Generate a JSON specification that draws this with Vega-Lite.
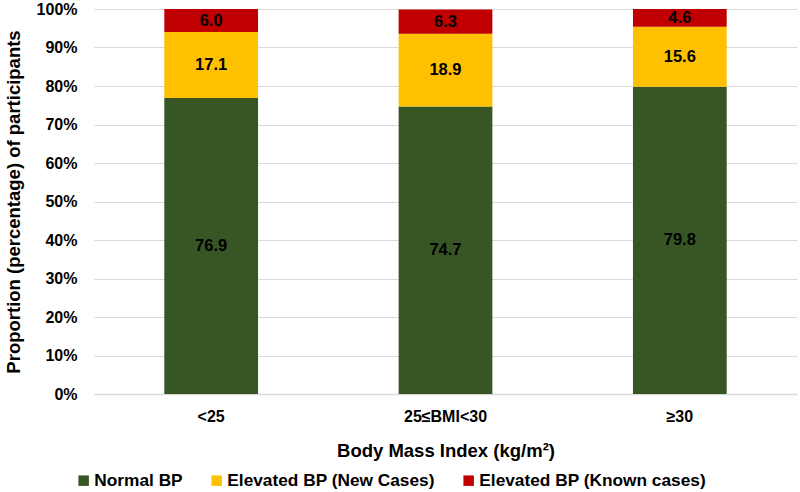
{
  "$schema": "https://vega.github.io/schema/vega-lite/v6.json",
  "width": 703,
  "height": 385,
  "autosize": {"type": "none"},
  "padding": {"left": 94, "top": 9, "right": 3, "bottom": 98},
  "background": "white",
  "config": {
    "view": {"stroke": null},
    "font": "Liberation Sans"
  },
  "data": {
    "values": [
      {"bmi": "<25", "status": "Normal BP", "order": 1, "value": 76.9},
      {"bmi": "<25", "status": "Elevated BP (New Cases)", "order": 2, "value": 17.1},
      {"bmi": "<25", "status": "Elevated BP (Known cases)", "order": 3, "value": 6.0},
      {"bmi": "25≤BMI<30", "status": "Normal BP", "order": 1, "value": 74.7},
      {"bmi": "25≤BMI<30", "status": "Elevated BP (New Cases)", "order": 2, "value": 18.9},
      {"bmi": "25≤BMI<30", "status": "Elevated BP (Known cases)", "order": 3, "value": 6.3},
      {"bmi": "≥30", "status": "Normal BP", "order": 1, "value": 79.8},
      {"bmi": "≥30", "status": "Elevated BP (New Cases)", "order": 2, "value": 15.6},
      {"bmi": "≥30", "status": "Elevated BP (Known cases)", "order": 3, "value": 4.6}
    ]
  },
  "encoding": {
    "x": {
      "field": "bmi",
      "type": "nominal",
      "sort": ["<25", "25≤BMI<30", "≥30"],
      "scale": {"paddingInner": 0.6, "paddingOuter": 0.3},
      "axis": {
        "title": "Body Mass Index (kg/m²)",
        "titleFontSize": 18.5,
        "titleFontWeight": "bold",
        "titleColor": "#000000",
        "titlePadding": 17,
        "labelAngle": 0,
        "labelFontSize": 16,
        "labelFontWeight": "bold",
        "labelColor": "#000000",
        "labelPadding": 14,
        "ticks": false,
        "domainColor": "#d9d9d9",
        "domainWidth": 1.5
      }
    }
  },
  "resolve": {"axis": {"y": "independent"}},
  "layer": [
    {
      "mark": {"type": "bar"},
      "encoding": {
        "y": {
          "field": "value",
          "type": "quantitative",
          "stack": "zero",
          "scale": {"domain": [0, 100]},
          "axis": {
            "title": "Proportion (percentage) of participants",
            "titleFontSize": 18.5,
            "titleFontWeight": "bold",
            "titleColor": "#000000",
            "titlePadding": 13,
            "values": [0, 10, 20, 30, 40, 50, 60, 70, 80, 90, 100],
            "labelExpr": "datum.value + '%'",
            "labelOverlap": false,
            "labelFontSize": 16,
            "labelFontWeight": "bold",
            "labelColor": "#000000",
            "labelPadding": 17,
            "ticks": false,
            "domain": false,
            "gridColor": "#d9d9d9",
            "gridWidth": 1.2
          }
        },
        "color": {
          "field": "status",
          "type": "nominal",
          "sort": ["Normal BP", "Elevated BP (New Cases)", "Elevated BP (Known cases)"],
          "scale": {
            "domain": ["Normal BP", "Elevated BP (New Cases)", "Elevated BP (Known cases)"],
            "range": ["#375623", "#FFC000", "#C00000"]
          },
          "legend": {
            "title": null,
            "orient": "none",
            "legendX": -19,
            "legendY": 463,
            "direction": "horizontal",
            "columns": 3,
            "columnPadding": 25,
            "symbolType": "square",
            "symbolSize": 110,
            "symbolStrokeWidth": 0,
            "labelFontSize": 17.3,
            "labelFontWeight": "bold",
            "labelColor": "#000000",
            "labelOffset": 2,
            "labelLimit": 400
          }
        },
        "order": {"field": "order", "type": "quantitative"}
      }
    },
    {
      "transform": [
        {"stack": "value", "groupby": ["bmi"], "sort": [{"field": "order", "order": "ascending"}], "as": ["lo", "hi"]},
        {"calculate": "(datum.lo + datum.hi) / 2", "as": "mid"}
      ],
      "mark": {"type": "text", "fontSize": 16.5, "fontWeight": "bold", "color": "#000000", "baseline": "middle"},
      "encoding": {
        "y": {"field": "mid", "type": "quantitative", "scale": {"domain": [0, 100]}, "axis": null},
        "text": {"field": "value", "type": "quantitative", "format": ".1f"}
      }
    }
  ]
}
